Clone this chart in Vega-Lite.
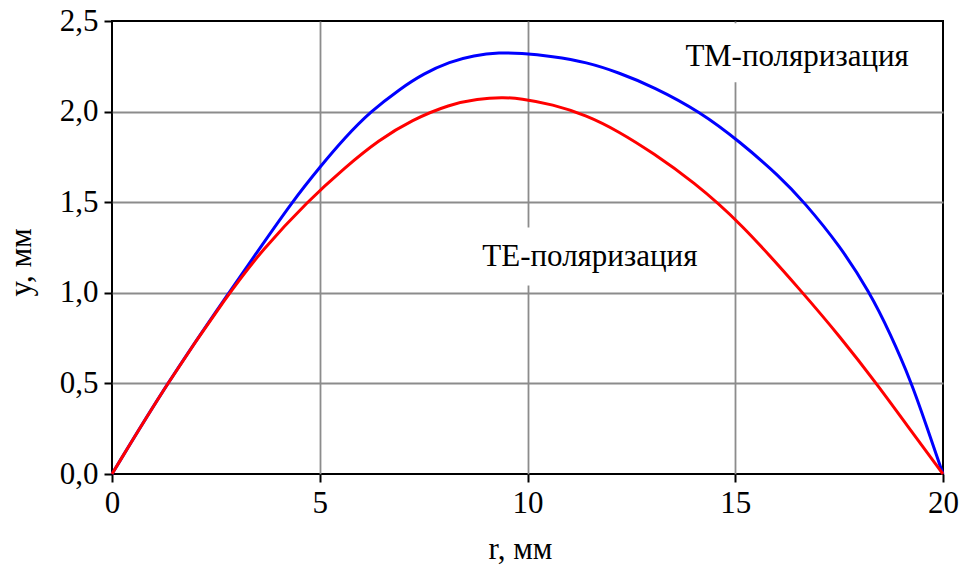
{
  "$schema": "https://vega.github.io/schema/vega-lite/v6.json",
  "width": 831,
  "height": 453,
  "autosize": {"type": "none"},
  "padding": {"left": 112, "top": 21, "right": 19, "bottom": 94},
  "background": "white",
  "config": {
    "view": {"stroke": "black", "strokeWidth": 2},
    "font": "'Liberation Serif', 'Times New Roman', serif",
    "axis": {
      "labelFont": "'Liberation Serif', 'Times New Roman', serif",
      "labelFontSize": 31,
      "labelColor": "black",
      "labelFlush": false,
      "titleFont": "'Liberation Serif', 'Times New Roman', serif",
      "titleFontSize": 31,
      "titleFontWeight": "normal",
      "titleColor": "black",
      "tickColor": "black",
      "tickWidth": 2,
      "tickSize": 8,
      "domain": false,
      "grid": true,
      "gridColor": "#8c8c8c",
      "gridWidth": 1.8
    }
  },
  "datasets": {
    "curves": [
      {"r": 0, "y": 0, "pol": "TM"},
      {"r": 1.32, "y": 0.5, "pol": "TM"},
      {"r": 2.81, "y": 1.0, "pol": "TM"},
      {"r": 3.6, "y": 1.26, "pol": "TM"},
      {"r": 4.33, "y": 1.5, "pol": "TM"},
      {"r": 5.01, "y": 1.696, "pol": "TM"},
      {"r": 5.6, "y": 1.855, "pol": "TM"},
      {"r": 6.22, "y": 2.0, "pol": "TM"},
      {"r": 6.93, "y": 2.125, "pol": "TM"},
      {"r": 7.5, "y": 2.21, "pol": "TM"},
      {"r": 8.13, "y": 2.275, "pol": "TM"},
      {"r": 8.7, "y": 2.31, "pol": "TM"},
      {"r": 9.34, "y": 2.326, "pol": "TM"},
      {"r": 9.82, "y": 2.323, "pol": "TM"},
      {"r": 10.6, "y": 2.305, "pol": "TM"},
      {"r": 11.42, "y": 2.273, "pol": "TM"},
      {"r": 12.2, "y": 2.215, "pol": "TM"},
      {"r": 13.03, "y": 2.137, "pol": "TM"},
      {"r": 14.15, "y": 2.0, "pol": "TM"},
      {"r": 15.11, "y": 1.834, "pol": "TM"},
      {"r": 16.08, "y": 1.64, "pol": "TM"},
      {"r": 16.64, "y": 1.505, "pol": "TM"},
      {"r": 17.52, "y": 1.26, "pol": "TM"},
      {"r": 18.24, "y": 1.0, "pol": "TM"},
      {"r": 18.72, "y": 0.78, "pol": "TM"},
      {"r": 19.25, "y": 0.5, "pol": "TM"},
      {"r": 19.61, "y": 0.26, "pol": "TM"},
      {"r": 20, "y": 0, "pol": "TM"},
      {"r": 0, "y": 0, "pol": "TE"},
      {"r": 1.32, "y": 0.5, "pol": "TE"},
      {"r": 2.81, "y": 0.997, "pol": "TE"},
      {"r": 3.61, "y": 1.236, "pol": "TE"},
      {"r": 4.73, "y": 1.51, "pol": "TE"},
      {"r": 5.6, "y": 1.69, "pol": "TE"},
      {"r": 6.42, "y": 1.843, "pol": "TE"},
      {"r": 7.22, "y": 1.954, "pol": "TE"},
      {"r": 8.13, "y": 2.04, "pol": "TE"},
      {"r": 8.8, "y": 2.07, "pol": "TE"},
      {"r": 9.4, "y": 2.079, "pol": "TE"},
      {"r": 9.82, "y": 2.073, "pol": "TE"},
      {"r": 10.6, "y": 2.04, "pol": "TE"},
      {"r": 11.42, "y": 1.98, "pol": "TE"},
      {"r": 12.2, "y": 1.89, "pol": "TE"},
      {"r": 13.03, "y": 1.77, "pol": "TE"},
      {"r": 13.98, "y": 1.615, "pol": "TE"},
      {"r": 15.11, "y": 1.392, "pol": "TE"},
      {"r": 16.64, "y": 0.997, "pol": "TE"},
      {"r": 17.52, "y": 0.758, "pol": "TE"},
      {"r": 18.4, "y": 0.5, "pol": "TE"},
      {"r": 19.13, "y": 0.27, "pol": "TE"},
      {"r": 20, "y": 0, "pol": "TE"}
    ],
    "labels": [
      {"r": 11.5, "y": 1.2, "text": "TE-поляризация", "pol": "TE"},
      {"r": 16.49, "y": 2.3, "text": "ТМ-поляризация", "pol": "TM"}
    ]
  },
  "layer": [
    {
      "data": {"name": "labels"},
      "transform": [{"filter": "datum.pol == 'TE'"}],
      "mark": {"type": "rect", "fill": "white", "width": 240, "height": 58},
      "encoding": {
        "x": {"field": "r", "type": "quantitative", "scale": {"domain": [0, 20], "nice": false},
          "axis": {"values": [0, 5, 10, 15, 20], "title": "r, мм", "labelPadding": 6, "titlePadding": 16, "titleX": 408,
            "gridOpacity": {"condition": {"test": "datum.value == 0 || datum.value == 20", "value": 0}, "value": 1}}},
        "y": {"field": "y", "type": "quantitative", "scale": {"domain": [0, 2.5], "nice": false},
          "axis": {"values": [0, 0.5, 1, 1.5, 2, 2.5], "title": "y, мм", "labelPadding": 6, "titlePadding": 22, "titleY": 241,
            "labelExpr": "replace(format(datum.value, '.1f'), '.', ',')",
            "gridOpacity": {"condition": {"test": "datum.value == 0 || datum.value == 2.5", "value": 0}, "value": 1}}}
      }
    },
    {
      "data": {"name": "labels"},
      "transform": [{"filter": "datum.pol == 'TM'"}],
      "mark": {"type": "rect", "fill": "white", "width": 240, "height": 59, "yOffset": -4.5},
      "encoding": {
        "x": {"field": "r", "type": "quantitative"},
        "y": {"field": "y", "type": "quantitative"}
      }
    },
    {
      "data": {"name": "curves"},
      "mark": {"type": "line", "strokeWidth": 3, "interpolate": "basis"},
      "encoding": {
        "x": {"field": "r", "type": "quantitative"},
        "y": {"field": "y", "type": "quantitative"},
        "color": {"field": "pol", "type": "nominal", "scale": {"domain": ["TM", "TE"], "range": ["#0000ff", "#ff0000"]}, "legend": null}
      }
    },
    {
      "data": {"name": "labels"},
      "mark": {"type": "text", "font": "'Liberation Serif', 'Times New Roman', serif", "fontSize": 31, "color": "black", "align": "center", "baseline": "middle"},
      "encoding": {
        "x": {"field": "r", "type": "quantitative"},
        "y": {"field": "y", "type": "quantitative"},
        "text": {"field": "text"}
      }
    }
  ]
}
